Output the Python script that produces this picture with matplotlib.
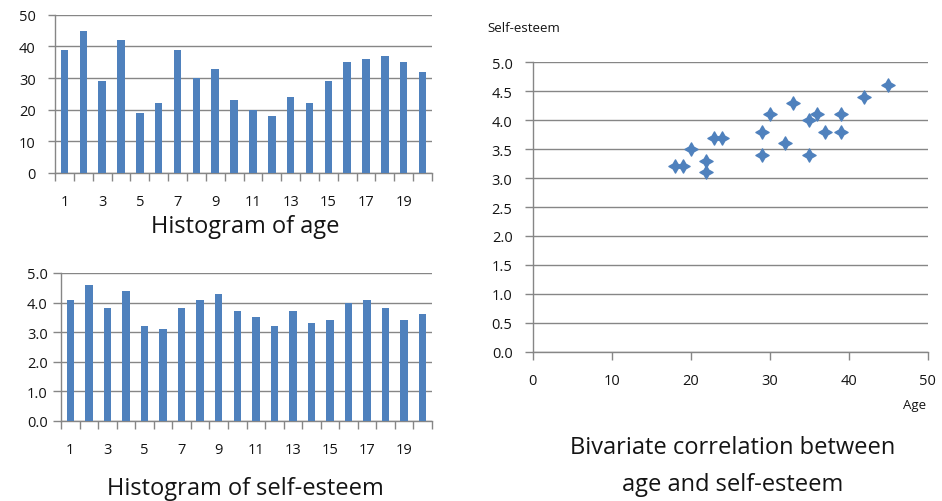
import matplotlib.pyplot as plt
from matplotlib.path import Path
from matplotlib.ticker import FormatStrFormatter, MultipleLocator

plt.rcParams["font.family"] = ["Open Sans", "DejaVu Sans"]

# one row per respondent
person = list(range(1, 21))
age = [39, 45, 29, 42, 19, 22, 39, 30, 33, 23, 20, 18, 24, 22, 29, 35, 36, 37, 35, 32]
esteem = [4.1, 4.6, 3.8, 4.4, 3.2, 3.1, 3.8, 4.1, 4.3, 3.7, 3.5, 3.2, 3.7, 3.3, 3.4, 4.0, 4.1, 3.8, 3.4, 3.6]

blue = "#4F81BD"
grey = "#868686"
txt = "#141414"

# excel-ish four point diamond
k = 0.36
star = Path([(0, 1), (k, k), (1, 0), (k, -k), (0, -1), (-k, -k), (-1, 0), (-k, k), (0, 1)],
            closed=True)

fig = plt.figure(figsize=(9.42, 5.02), dpi=100)


def style(ax, ypad, ylen):
    for s in ["top", "right"]:
        ax.spines[s].set_visible(False)
    for s in ["left", "bottom"]:
        ax.spines[s].set_color(grey)
        ax.spines[s].set_linewidth(1.0)
    ax.grid(axis="y", color=grey, linewidth=1.0)
    ax.set_axisbelow(True)
    ax.tick_params(axis="y", length=ylen, width=1.0, color=grey, pad=ypad, labelsize=10.5,
                   labelcolor=txt)


def histogram(ax, values, ymax, step, fmt, title, title_y, ypad, ylen):
    style(ax, ypad, ylen)
    ax.bar(person, values, width=0.4, color=blue, zorder=3)
    ax.set_xlim(0.5, 20.5)
    ax.set_ylim(0, ymax)
    ax.yaxis.set_major_locator(MultipleLocator(step))
    ax.yaxis.set_major_formatter(FormatStrFormatter(fmt))
    ax.set_xticks(person[::2])
    ax.set_xticks([p - 0.5 for p in person] + [20.5], minor=True)
    ax.tick_params(axis="x", which="major", length=0, pad=15, labelsize=10.5, labelcolor=txt)
    ax.tick_params(axis="x", which="minor", length=5.5, width=1.0, color=grey)
    fig.text(0.26, title_y, title, ha="center", va="center", fontsize=17, color=txt)


ax1 = fig.add_axes([0.0584, 0.6534, 0.4002, 0.3153])
histogram(ax1, age, 50, 10, "%d", "Histogram of age", 1 - 227 / 502, 9, 5)

ax2 = fig.add_axes([0.0648, 0.1600, 0.3938, 0.2942])
histogram(ax2, esteem, 5.0, 1.0, "%.1f", "Histogram of self-esteem", 1 - 489 / 502, 3.5, 6)

ax3 = fig.add_axes([0.5655, 0.2974, 0.4193, 0.5765])
style(ax3, 8.5, 6)
ax3.plot(age, esteem, linestyle="none", marker=star, markersize=9.5, color=blue, zorder=3)
ax3.set_xlim(0, 50)
ax3.set_ylim(0, 5.0)
ax3.yaxis.set_major_locator(MultipleLocator(0.5))
ax3.yaxis.set_major_formatter(FormatStrFormatter("%.1f"))
ax3.xaxis.set_major_locator(MultipleLocator(10))
ax3.tick_params(axis="x", length=6, width=1.0, color=grey, pad=9, labelsize=10.5, labelcolor=txt)

fig.text(487 / 942, 1 - 29 / 502, "Self-esteem", ha="left", va="center", fontsize=9.5, color=txt)
fig.text(915 / 942, 1 - 406 / 502, "Age", ha="center", va="center", fontsize=9.5, color=txt)
fig.text(733 / 942, 1 - 448 / 502, "Bivariate correlation between", ha="center", va="center",
         fontsize=17, color=txt)
fig.text(733 / 942, 1 - 485 / 502, "age and self-esteem", ha="center", va="center",
         fontsize=17, color=txt)

fig.savefig("out.png", dpi=100)
